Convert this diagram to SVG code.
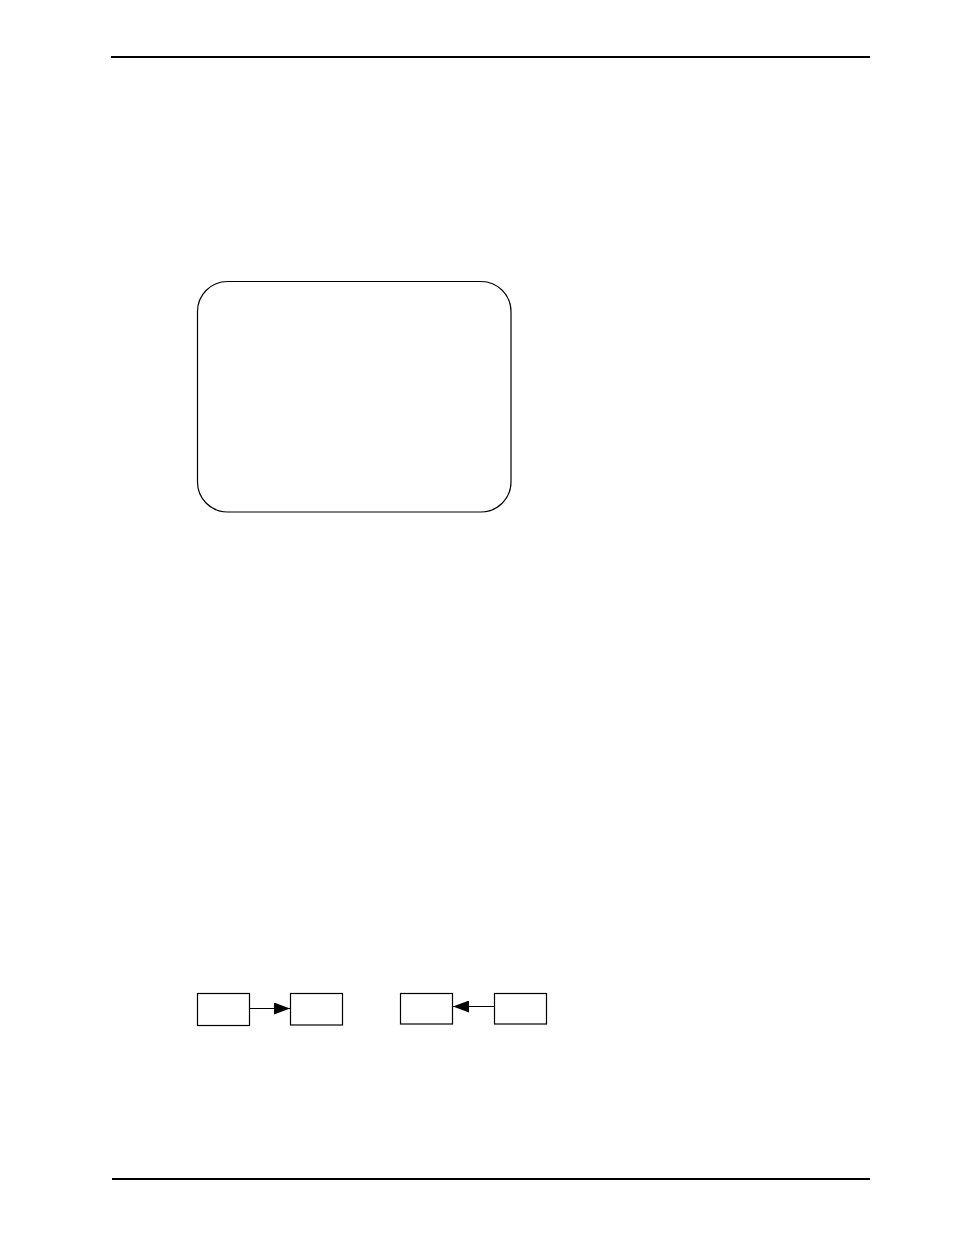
<svg xmlns="http://www.w3.org/2000/svg" width="954" height="1235" viewBox="0 0 954 1235">
<style>
.rule{stroke:#000;stroke-width:2.2}
.box{fill:#fff;stroke:#000;stroke-width:1.2}
.conn{stroke:#000;stroke-width:1.2;fill:none}
</style>
<defs>
<marker id="ah" markerWidth="16" markerHeight="12" refX="16" refY="6" orient="auto" markerUnits="userSpaceOnUse">
<path d="M0,0 L16,6 L0,12 Z" fill="#000"/>
</marker>
</defs>
<rect width="954" height="1235" fill="#fff"/>
<line class="rule" x1="111" y1="57" x2="870" y2="57"/>
<line class="rule" x1="112" y1="1179" x2="870" y2="1179"/>
<g id="frame"><rect class="box" x="197.5" y="281.5" width="313.5" height="230.5" rx="30" ry="30"/></g>
<g id="nodeA"><rect class="box" x="197.5" y="993.5" width="52" height="32"/></g>
<g id="nodeB"><rect class="box" x="290.5" y="993.5" width="52" height="31.5"/></g>
<g id="nodeC"><rect class="box" x="400.5" y="993.5" width="52" height="30.5"/></g>
<g id="nodeD"><rect class="box" x="494.5" y="993.5" width="52" height="30.5"/></g>
<g id="connectors">
<line class="conn" x1="249.5" y1="1008.5" x2="290" y2="1008.5" marker-end="url(#ah)"/>
<line class="conn" x1="494.5" y1="1006.5" x2="453" y2="1006.5" marker-end="url(#ah)"/>
</g>
</svg>
